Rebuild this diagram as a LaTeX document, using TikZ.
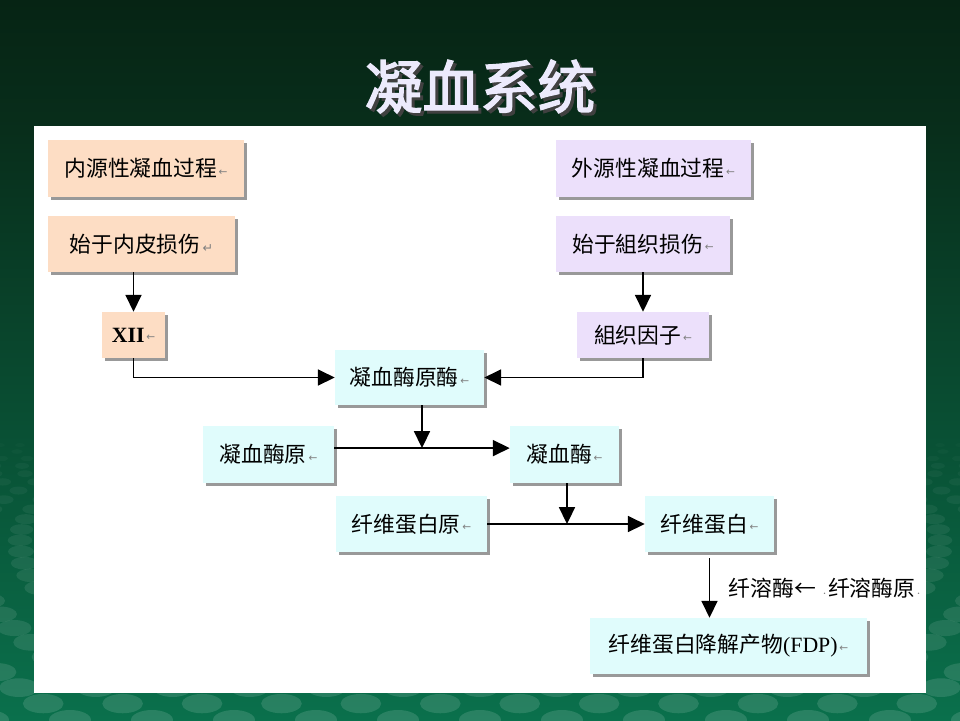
\documentclass[tikz,border=0pt]{standalone}
\usepackage{fontspec}
\setmainfont{Liberation Serif}
\newfontfamily\cjk{Noto Sans CJK SC}
\newfontfamily\cjkbold[FakeBold=2.5]{Noto Sans CJK SC}
\newfontfamily\symfont{DejaVu Sans}
\usetikzlibrary{arrows.meta,shadows}

\definecolor{bgtop}{RGB}{6,36,20}
\definecolor{bgmid}{RGB}{8,46,27}
\definecolor{bgbot}{RGB}{10,112,76}
\definecolor{inpeach}{RGB}{253,221,196}
\definecolor{exlilac}{RGB}{236,224,251}
\definecolor{aqua}{RGB}{224,252,252}
\definecolor{titlewhite}{RGB}{236,234,252}

% small grey paragraph marks left in the boxes
\newcommand{\pmark}{{\symfont\fontsize{7.5}{8}\selectfont\color{gray}\,\raisebox{.3ex}{←}}}
\newcommand{\rmark}{{\symfont\fontsize{9}{9}\selectfont\color{gray}\,↵}}

\tikzset{x=0.25mm, y=-0.25mm} % 1 unit = 1 px of the slide
\tikzset{
  card/.style={rectangle, inner sep=0pt, text=black,
    font=\cjk\fontsize{15.5}{18}\selectfont,
    drop shadow={shadow xshift=0.7mm, shadow yshift=-0.7mm, fill=black!40, opacity=1}},
  inbox/.style={card, fill=inpeach},
  exbox/.style={card, fill=exlilac},
  mainbox/.style={card, fill=aqua},
  arr/.style={-{Triangle[width=4mm,length=4.2mm]}, line width=1pt, black},
}

\begin{document}
\begin{tikzpicture}
\useasboundingbox (0,0) rectangle (960,720);
% slide background
\shade[top color=bgtop, bottom color=bgmid] (0,0) rectangle (960,131);
\shade[top color=bgmid, bottom color=bgbot] (0,130) rectangle (960,720);
\foreach \r in {0,...,24}{ % rows of spots, nearer = larger
  \pgfmathsetmacro\t{\r/24}
  \pgfmathsetmacro\yy{445+275*(0.55*\t+0.45*\t*\t)}
  \pgfmathsetmacro\rx{(5+16*\t)*0.25}
  \pgfmathsetmacro\ry{(2+8*\t)*0.25}
  \pgfmathsetmacro\dx{20+62*\t}
  \pgfmathsetmacro\off{0.5*mod(\r,2)}
  \pgfmathsetmacro\op{0.02+0.11*\t}
  \foreach \k in {-25,...,25}
    \fill[white, opacity=\op] ({480+(\k+\off)*\dx},\yy) ellipse [x radius=\rx mm, y radius=\ry mm];
}
\fill[white] (34,126) rectangle (926,693);

% title, with its grey shadow
\node[font=\cjkbold\fontsize{41}{41}\selectfont, text=titlewhite] (title) at (480,88)
  {\rlap{\hspace{0.75mm}\raisebox{-0.75mm}{\color{black!75}凝血系统}}凝血系统};

% intrinsic side
\node[inbox, minimum width=49mm, minimum height=14.25mm] (in1) at (146,168.5) {内源性凝血过程\pmark};
\node[inbox, minimum width=46.75mm, minimum height=14mm] (in2) at (141.5,244) {始于内皮损伤\rmark};
\node[inbox, minimum width=15.75mm, minimum height=11.5mm] (f12) at (133.5,335) {{\rmfamily\bfseries XII}\pmark};
% extrinsic side
\node[exbox, minimum width=48.75mm, minimum height=14.25mm] (ex1) at (653.5,168.5) {外源性凝血过程\pmark};
\node[exbox, minimum width=43.5mm, minimum height=14mm] (ex2) at (643,244) {始于組织损伤\pmark};
\node[exbox, minimum width=33mm, minimum height=11.5mm] (tf) at (643,335) {組织因子\pmark};
% common path
\node[mainbox, minimum width=37.25mm, minimum height=13.75mm] (pa) at (409.5,377.5) {凝血酶原酶\pmark};
\node[mainbox, minimum width=32.75mm, minimum height=14.25mm] (pt) at (268.5,454.5) {凝血酶原\pmark};
\node[mainbox, minimum width=27.25mm, minimum height=14.25mm] (th) at (564.5,454.5) {凝血酶\pmark};
\node[mainbox, minimum width=37.75mm, minimum height=14mm] (fg) at (411.5,524) {纤维蛋白原\pmark};
\node[mainbox, minimum width=32.25mm, minimum height=14mm] (fb) at (709.5,524) {纤维蛋白\pmark};
\node[mainbox, minimum width=69.25mm, minimum height=14mm] (fdp) at (728.5,646) {纤维蛋白降解产物{\rmfamily(FDP)}\pmark};
\node[anchor=west, font=\cjk\fontsize{15.5}{18}\selectfont] (plasmin) at (724,588)
  {纤溶酶← {\color{gray}\tiny·}纤溶酶原{\color{gray}\tiny·}};

\coordinate (j1) at (422,448);
\coordinate (j2) at (567,524);

\draw[arr] (f12.north |- in2.south) -- (f12.north);
\draw[arr] (ex2.south) -- (tf.north);
\draw[arr] (f12.south) |- (pa.west);
\draw[arr] (tf.south) |- (pa.east);
\draw[arr] ([yshift=1.6mm]pt.east) -- ([yshift=1.6mm]th.west);
\draw[arr] (j1 |- pa.south) -- (j1);
\draw[arr] (fg.east) -- (fb.west);
\draw[arr] (j2 |- th.south) -- (j2);
\draw[arr] ([yshift=-1.5mm]fb.south) -- (fb.south |- fdp.north);
\end{tikzpicture}
\end{document}
